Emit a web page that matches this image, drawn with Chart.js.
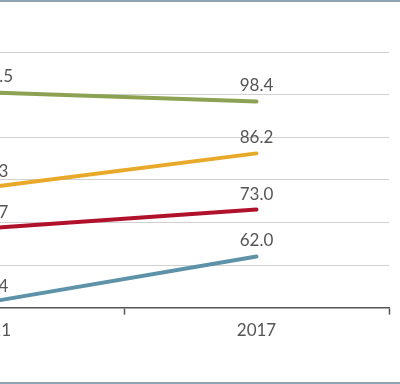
<!DOCTYPE html>
<html>
<head>
<meta charset="utf-8">
<script src="https://cdn.jsdelivr.net/npm/chart.js@4/dist/chart.umd.min.js"></script>
<style>
  html, body { margin: 0; padding: 0; background: #fff; overflow: hidden; }
  #frame {
    position: relative; width: 400px; height: 380px; overflow: hidden;
    border-top: 2px solid #8ea3b2; border-bottom: 2px solid #8ea3b2;
  }
  #wrap { position: absolute; left: -200px; top: 0; width: 600px; height: 380px; }
</style>
</head>
<body>
<div id="frame"><div id="wrap"><canvas id="chart"></canvas></div></div>
<script>
// values (first year is cropped at the left edge)
const years = ['2011', '2017'];
const greenSeries = [100.5, 98.4];
const yellowSeries = [78.3, 86.2];
const redSeries = [68.7, 73.0];
const blueSeries = [51.4, 62.0];
const yTicks = [50, 60, 70, 80, 90, 100, 110];

const textColor = '#555555';
const labelFont = { family: 'Lato, sans-serif', size: 17 };

// value labels sitting above each point
const pointLabels = {
  id: 'pointLabels',
  afterDatasetsDraw(chart) {
    const ctx = chart.ctx;
    ctx.save();
    ctx.font = `${labelFont.size}px ${labelFont.family}`;
    ctx.fillStyle = textColor;
    ctx.textAlign = 'center';
    ctx.textBaseline = 'alphabetic';
    chart.data.datasets.forEach((ds, i) => {
      chart.getDatasetMeta(i).data.forEach((pt, j) => {
        ctx.fillText(ds.data[j].toFixed(1), pt.x, pt.y - 10);
      });
    });
    ctx.restore();
  }
};

const line = (data, color) => ({
  data,
  borderColor: color,
  borderWidth: 4,
  borderCapStyle: 'round',
  pointRadius: 0,
  tension: 0,
  fill: false,
});

new Chart(document.getElementById('chart'), {
  type: 'line',
  data: {
    labels: years,
    datasets: [
      line(greenSeries, '#8ca252'),
      line(yellowSeries, '#e8a92b'),
      line(redSeries, '#b1122b'),
      line(blueSeries, '#5e92a8'),
    ]
  },
  options: {
    responsive: true,
    maintainAspectRatio: false,
    animation: false,
    layout: { padding: { left: 59, right: 11, top: 50, bottom: 35 } },
    plugins: { legend: { display: false }, tooltip: { enabled: false } },
    scales: {
      x: {
        offset: true,
        grid: { offset: true, drawOnChartArea: false, drawTicks: true, tickLength: 7, tickColor: textColor, tickWidth: 1.5 },
        border: { color: textColor, width: 1.5 },
        ticks: { color: textColor, font: labelFont, padding: 6 }
      },
      y: {
        min: yTicks[0],
        max: yTicks[yTicks.length - 1],
        afterBuildTicks: axis => { axis.ticks = yTicks.map(v => ({ value: v })); },
        grid: { color: '#d0d0d0', lineWidth: 1, drawTicks: false },
        border: { display: false },
        ticks: { display: false }
      }
    }
  },
  plugins: [pointLabels]
});
</script>
</body>
</html>
